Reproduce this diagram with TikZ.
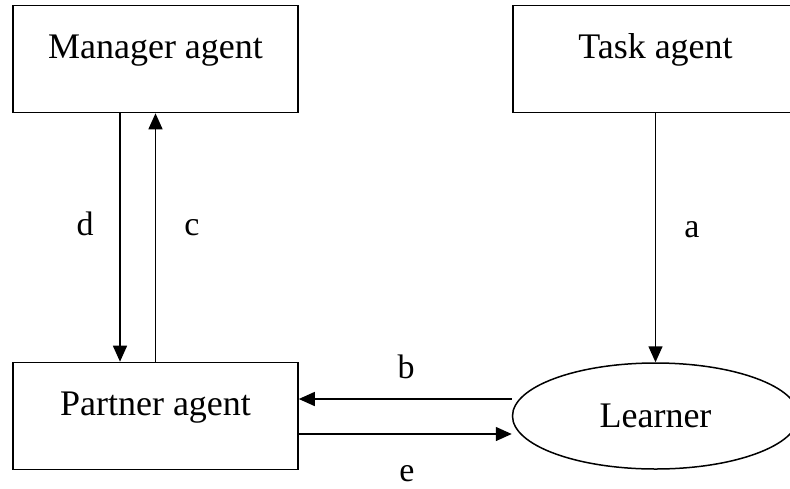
\documentclass[tikz,border=0pt]{standalone}
\usepackage{fontspec}
\setmainfont{Liberation Serif}
\usetikzlibrary{shapes.geometric,arrows.meta}
\begin{document}
\begin{tikzpicture}[x=1pt,y=-1pt,
  box/.style={draw, line width=1.6pt, rectangle, minimum width=285pt, minimum height=107pt, inner sep=0pt, font=\fontsize{36}{40}\selectfont, text height=26pt, text depth=28pt},
  oval/.style={draw, line width=1.5pt, ellipse, minimum width=286pt, minimum height=106pt, inner sep=0pt, font=\fontsize{36}{40}\selectfont},
  link/.style={line width=1.5pt, -{Triangle[length=16pt,width=14pt]}},
  lbl/.style={font=\fontsize{34}{38}\selectfont, inner sep=0pt, anchor=base}]
\clip (0,0) rectangle (790,488);
\node[box] (mgr) at (155.5,59) {Manager agent};
\node[box] (task) at (655.5,59) {Task agent};
\node[box] (partner) at (155.5,416) {Partner agent};
\node[oval] (learner) at (655.5,416) {Learner};
\draw[link] ([xshift=-35.5pt]mgr.south) -- ([xshift=-35.5pt]partner.north);
\draw[link] (partner.north) -- (mgr.south);
\draw[link] (task.south) -- (learner.north);
\draw[link] ([yshift=17pt]learner.west) -- ([yshift=17pt]partner.east);
\draw[link] ([yshift=-18pt]partner.east) -- ([yshift=-18pt]learner.west);
\node[lbl] (ld) at (85,235) {d};
\node[lbl] (lc) at (192,235) {c};
\node[lbl] (la) at (692,237) {a};
\node[lbl] (lb) at (406,378) {b};
\node[lbl] (le) at (407,481) {e};
\end{tikzpicture}
\end{document}
